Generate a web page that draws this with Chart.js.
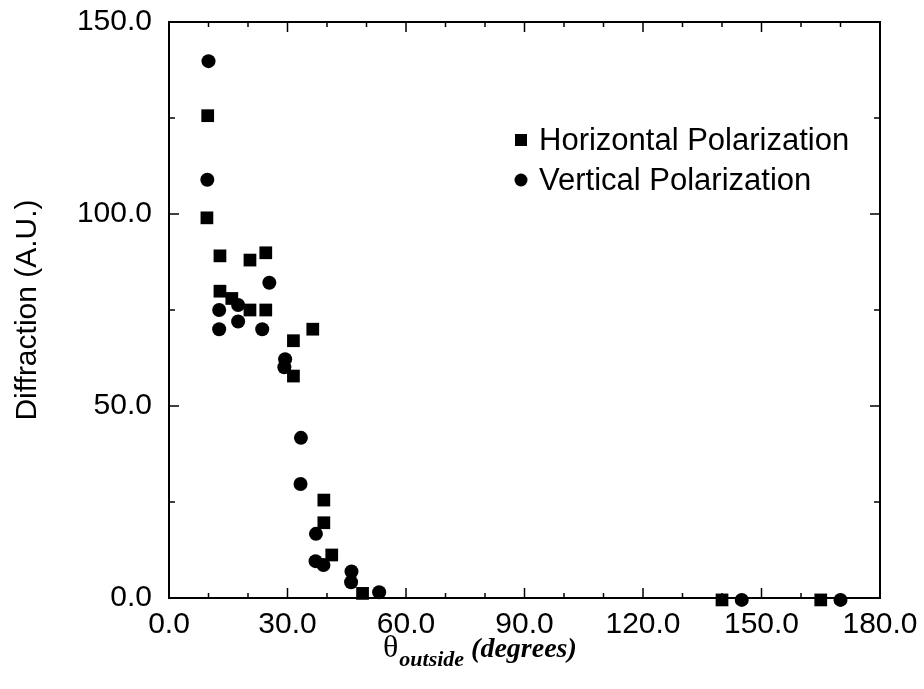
<!DOCTYPE html>
<html>
<head>
<meta charset="utf-8">
<script src="https://cdn.jsdelivr.net/npm/chart.js@4"></script>
<style>
  html, body { margin: 0; padding: 0; background: #fff; }
  canvas { display: block; }
</style>
</head>
<body>
<canvas id="c" width="924" height="689"></canvas>
<script>
// Horizontal polarization (squares)
const horizX = [9.8, 9.6, 12.9, 20.5, 24.5, 12.9, 15.9, 20.5, 24.5, 36.4, 31.5, 31.5, 39.2, 39.2, 41.2, 49.0, 140.0, 165.0];
const horizY = [125.6, 99.0, 89.1, 88.0, 89.9, 79.9, 78.0, 75.0, 75.0, 70.0, 67.0, 57.8, 25.5, 19.6, 11.2, 1.2, -0.5, -0.5];
// Vertical polarization (circles)
const vertX = [10.0, 9.7, 25.4, 17.5, 12.7, 12.7, 17.5, 23.6, 29.4, 29.2, 33.4, 33.3, 37.2, 37.1, 39.1, 46.2, 46.1, 53.2, 145.0, 170.0];
const vertY = [139.8, 108.9, 82.1, 76.3, 75.0, 70.0, 72.0, 70.0, 62.2, 60.1, 41.7, 29.7, 16.7, 9.6, 8.6, 6.9, 4.1, 1.5, -0.5, -0.5];

const legendLabels = ['Horizontal Polarization', 'Vertical Polarization'];
const xTicks = [0, 30, 60, 90, 120, 150, 180];
const yTicks = [0, 50, 100, 150];

const toPoints = (xs, ys) => xs.map((x, i) => ({ x: x, y: ys[i] }));

// frame with inward ticks on all four sides, plus legend and x title
const framePlugin = {
  id: 'frame',
  afterDraw(chart) {
    const ctx = chart.ctx;
    const a = chart.chartArea;
    const xs = chart.scales.x;
    const ys = chart.scales.y;
    ctx.save();
    ctx.strokeStyle = '#000';
    ctx.lineWidth = 2;
    ctx.strokeRect(a.left, a.top, a.right - a.left, a.bottom - a.top);
    ctx.lineWidth = 1.5;
    ctx.beginPath();
    for (let v = 0; v <= 180; v += 10) {
      const px = xs.getPixelForValue(v);
      const len = v % 30 === 0 ? 10 : 5;
      ctx.moveTo(px, a.bottom); ctx.lineTo(px, a.bottom - len);
      ctx.moveTo(px, a.top); ctx.lineTo(px, a.top + len);
    }
    for (let v = 0; v <= 150; v += 25) {
      const py = ys.getPixelForValue(v);
      const len = v % 50 === 0 ? 10 : 6;
      ctx.moveTo(a.left, py); ctx.lineTo(a.left + len, py);
      ctx.moveTo(a.right, py); ctx.lineTo(a.right - len, py);
    }
    ctx.stroke();

    // legend
    ctx.fillStyle = '#000';
    ctx.font = '31px "Liberation Sans", Arial, sans-serif';
    ctx.textBaseline = 'middle';
    ctx.fillRect(515, 134, 12, 12);
    ctx.fillText(legendLabels[0], 539, 141);
    ctx.beginPath();
    ctx.arc(521, 180, 6.5, 0, Math.PI * 2);
    ctx.fill();
    ctx.fillText(legendLabels[1], 539, 181);

    // x axis title: theta with subscript
    ctx.textBaseline = 'alphabetic';
    ctx.font = '32px "Liberation Serif", "Times New Roman", serif';
    ctx.fillText('\u03B8', 383, 657);
    const w = ctx.measureText('\u03B8').width;
    ctx.font = 'bold italic 22px "Liberation Serif", "Times New Roman", serif';
    ctx.fillText('outside', 383 + w + 1, 666);
    const w2 = ctx.measureText('outside').width;
    ctx.font = 'bold italic 28px "Liberation Serif", "Times New Roman", serif';
    ctx.fillText('(degrees)', 383 + w + w2 + 8, 657);
    ctx.restore();
  }
};

new Chart(document.getElementById('c').getContext('2d'), {
  type: 'scatter',
  data: {
    datasets: [{
      label: legendLabels[1],
      data: toPoints(vertX, vertY),
      pointStyle: 'circle',
      pointRadius: 7,
      backgroundColor: '#000',
      borderColor: '#000',
      borderWidth: 0,
      clip: false
    }, {
      label: legendLabels[0],
      data: toPoints(horizX, horizY),
      pointStyle: 'rect',
      pointRadius: 9,
      backgroundColor: '#000',
      borderColor: '#000',
      borderWidth: 0,
      clip: false
    }]
  },
  options: {
    responsive: false,
    animation: false,
    layout: { padding: { top: 22, right: 44, left: 0, bottom: 0 } },
    plugins: {
      legend: { display: false },
      tooltip: { enabled: false }
    },
    scales: {
      x: {
        type: 'linear',
        min: 0,
        max: 180,
        afterFit: s => { s.height = 91; s.paddingLeft = 0; s.paddingRight = 0; },
        afterBuildTicks: s => { s.ticks = xTicks.map(v => ({ value: v })); },
        grid: { display: false, drawTicks: false },
        border: { display: false },
        ticks: {
          padding: 9,
          color: '#000',
          font: { family: '"Liberation Sans", Arial, sans-serif', size: 30 },
          callback: v => v.toFixed(1)
        }
      },
      y: {
        type: 'linear',
        min: 0,
        max: 150,
        afterFit: s => { s.width = 169; s.paddingTop = 0; s.paddingBottom = 0; },
        afterBuildTicks: s => { s.ticks = yTicks.map(v => ({ value: v })); },
        grid: { display: false, drawTicks: false },
        border: { display: false },
        title: {
          display: true,
          text: 'Diffraction (A.U.)',
          color: '#000',
          padding: { top: 10, bottom: 0 },
          font: { family: '"Liberation Sans", Arial, sans-serif', size: 30 }
        },
        ticks: {
          padding: 17,
          color: '#000',
          font: { family: '"Liberation Sans", Arial, sans-serif', size: 30 },
          callback: v => v.toFixed(1)
        }
      }
    }
  },
  plugins: [framePlugin]
});
</script>
</body>
</html>
